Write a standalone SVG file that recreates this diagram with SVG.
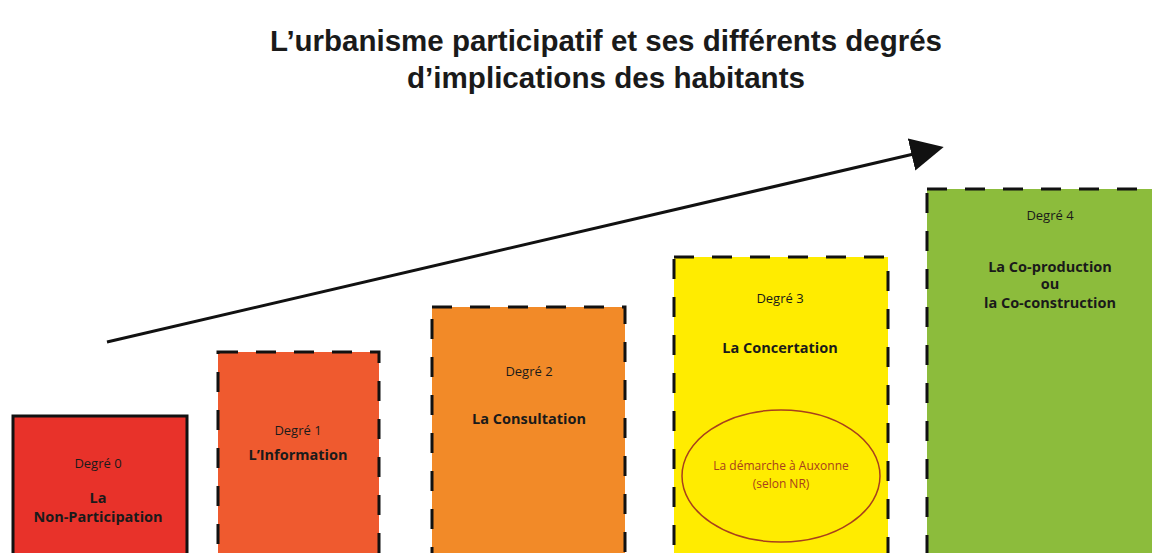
<svg xmlns="http://www.w3.org/2000/svg" width="1152" height="553" viewBox="0 0 1152 553">
<style>
.title{font-family:"Liberation Sans",Arial,sans-serif;font-weight:bold;font-size:30px;fill:#1a1a1a;text-anchor:middle}
.deg{font-family:"Open Sans","Liberation Sans",sans-serif;font-size:13px;fill:#1a1a1a;text-anchor:middle}
.lbl{font-family:"Open Sans","Liberation Sans",sans-serif;font-weight:bold;font-size:14.5px;fill:#1a1a1a;text-anchor:middle}
.dash{stroke:#111;stroke-width:3;stroke-dasharray:20 18}
.ell{font-family:"Open Sans","Liberation Sans",sans-serif;font-size:12px;fill:#a8401c;text-anchor:middle}
</style>
<defs>
<marker id="ah" viewBox="0 0 10 10" refX="2" refY="5" markerWidth="11" markerHeight="11" markerUnits="strokeWidth" orient="auto">
<path d="M0,0 L10,5 L0,10 z" fill="#111"/>
</marker>
</defs>
<rect width="1152" height="553" fill="#fff"/>
<text class="title" x="606" y="51" textLength="672" lengthAdjust="spacingAndGlyphs">L’urbanisme participatif et ses différents degrés</text>
<text class="title" x="606" y="88" textLength="398" lengthAdjust="spacingAndGlyphs">d’implications des habitants</text>
<g id="connectors">
<line x1="107" y1="342" x2="918" y2="153" stroke="#111" stroke-width="3" marker-end="url(#ah)"/>
</g>
<g id="degre0">
<rect x="13" y="416" width="174" height="150" fill="#e8322a" stroke="#111" stroke-width="3"/>
<text class="deg" x="98" y="468">Degré 0</text>
<text class="lbl" x="98" y="503">La</text>
<text class="lbl" x="98" y="522">Non-Participation</text>
</g>
<g id="degre1">
<rect x="218" y="352" width="161" height="220" fill="#ef5a2f" class="dash"/>
<text class="deg" x="298" y="435">Degré 1</text>
<text class="lbl" x="298" y="460">L’Information</text>
</g>
<g id="degre2">
<rect x="432" y="307" width="193" height="260" fill="#f28a28" class="dash"/>
<text class="deg" x="529" y="376">Degré 2</text>
<text class="lbl" x="529" y="424">La Consultation</text>
</g>
<g id="degre3">
<rect x="674" y="257" width="214" height="310" fill="#ffec00" class="dash"/>
<text class="deg" x="780" y="303">Degré 3</text>
<text class="lbl" x="780" y="353">La Concertation</text>
<ellipse cx="781" cy="476" rx="99" ry="66" fill="none" stroke="#a8401c" stroke-width="1.5"/>
<text class="ell" x="781" y="470">La démarche à Auxonne</text>
<text class="ell" x="781" y="488">(selon NR)</text>
</g>
<g id="degre4">
<rect x="927" y="189" width="240" height="380" fill="#8cbc3c" class="dash"/>
<text class="deg" x="1050" y="220">Degré 4</text>
<text class="lbl" x="1050" y="272">La Co-production</text>
<text class="lbl" x="1050" y="289">ou</text>
<text class="lbl" x="1050" y="308">la Co-construction</text>
</g>
</svg>
